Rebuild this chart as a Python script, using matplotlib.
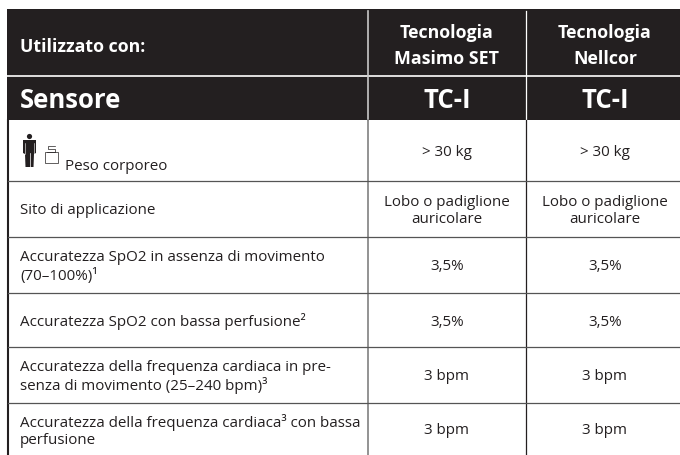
import matplotlib
matplotlib.use("Agg")
import matplotlib.pyplot as plt
from matplotlib.patches import Rectangle, Circle, Polygon

# table content
header_top = ["Utilizzato con:", "Tecnologia\nMasimo SET", "Tecnologia\nNellcor"]
header_sensor = ["Sensore", "TC-I", "TC-I"]
row_labels = [
    "Peso corporeo",
    "Sito di applicazione",
    "Accuratezza SpO2 in assenza di movimento\n(70–100%)¹",
    "Accuratezza SpO2 con bassa perfusione²",
    "Accuratezza della frequenza cardiaca in pre-\nsenza di movimento (25–240 bpm)³",
    "Accuratezza della frequenza cardiaca³ con bassa\nperfusione",
]
masimo = ["> 30 kg", "Lobo o padiglione\nauricolare", "3,5%", "3,5%", "3 bpm", "3 bpm"]
nellcor = ["> 30 kg", "Lobo o padiglione\nauricolare", "3,5%", "3,5%", "3 bpm", "3 bpm"]

# layout in pixels
row_edges = [120, 181, 237, 293, 347, 403, 455]
dark = "#231f20"
W, H = 680, 455
body = 10.9
shift = 2

plt.rcParams['font.family'] = ['Open Sans', 'DejaVu Sans']

fig = plt.figure(figsize=(W / 100, H / 100), dpi=100)
ax = fig.add_axes([0, 0, 1, 1])
ax.set_xlim(0, W)
ax.set_ylim(H, 0)
ax.axis("off")

# header band
ax.add_patch(Rectangle((7, 9), W - 7, 111, color=dark, lw=0))
ax.plot([7, W], [76, 76], color="white", lw=1.2)
ax.plot([368, 368], [11, 120], color="#c8c8c8", lw=1.2)
ax.plot([526, 526], [11, 120], color="white", lw=0.9)

# header text
ax.text(20, 46.5, header_top[0], color="white", fontsize=12.8, fontweight="bold", va="center")
ax.text(447, 46, header_top[1], color="white", fontsize=12.8, fontweight="bold",
        ha="center", va="center", linespacing=1.55)
ax.text(605, 46, header_top[2], color="white", fontsize=12.8, fontweight="bold",
        ha="center", va="center", linespacing=1.55)
ax.text(20, 100, header_sensor[0], color="white", fontsize=18.5, fontweight="bold", va="center")
ax.text(447, 100, header_sensor[1], color="white", fontsize=18.5, fontweight="bold", ha="center", va="center")
ax.text(605, 100, header_sensor[2], color="white", fontsize=18.5, fontweight="bold", ha="center", va="center")

# grid lines
ax.plot([7.8, 7.8], [120, H], color=dark, lw=1.5)
ax.plot([368, 368], [120, H], color="#808080", lw=1.2)
ax.plot([526, 526], [120, H], color=dark, lw=0.9)
for y in row_edges[1:-1]:
    ax.plot([8, W], [y, y], color="#555555", lw=0.9)

# body text
for i, label in enumerate(row_labels):
    yc = (row_edges[i] + row_edges[i + 1]) / 2 + shift
    if i == 0:
        ax.text(65, 167, label, color=dark, fontsize=body, va="center")
    else:
        ax.text(20, yc, label, color=dark, fontsize=body, va="center", linespacing=1.2)
    ax.text(447, yc, masimo[i], color=dark, fontsize=body, ha="center", va="center", linespacing=1.2)
    ax.text(605, yc, nellcor[i], color=dark, fontsize=body, ha="center", va="center", linespacing=1.2)

# person icon
ax.add_patch(Circle((29.5, 136.5), 2.6, color=dark, lw=0))
ax.add_patch(Polygon([(23, 140), (36, 140), (36, 153), (34, 154), (33.5, 167), (25.5, 167), (25, 154), (23, 153)],
                     closed=True, color=dark, lw=0))
ax.plot([29.5, 29.5], [153, 167], color="white", lw=0.5)
ax.plot([25.2, 25.2], [143, 154], color="white", lw=0.4)
ax.plot([33.8, 33.8], [143, 154], color="white", lw=0.4)
# weight icon
ax.add_patch(Rectangle((44.5, 152), 13, 11, fill=False, ec=dark, lw=0.5))
ax.plot([47, 55, 55, 48, 48, 55], [152, 152, 149, 149, 145.5, 145.5], color=dark, lw=0.5)

fig.savefig("out.png", dpi=100)
